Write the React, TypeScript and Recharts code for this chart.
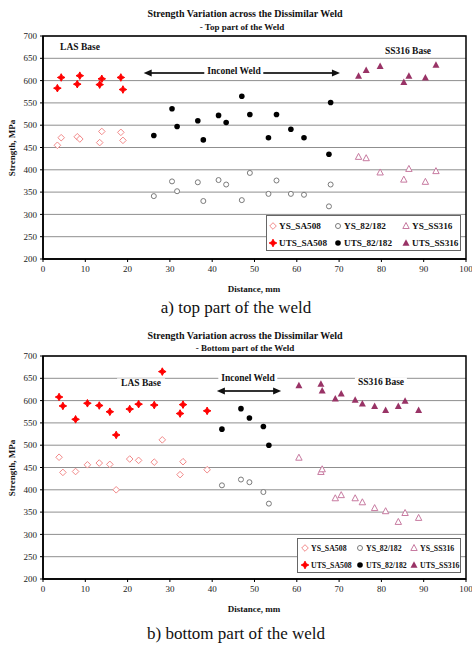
import {
  CartesianGrid,
  Legend,
  ReferenceArea,
  ReferenceLine,
  Scatter,
  ScatterChart,
  XAxis,
  YAxis,
} from "recharts";

const FONT = "'Liberation Serif', 'Times New Roman', Times, serif";

const distTicks = [0, 10, 20, 30, 40, 50, 60, 70, 80, 90, 100];
const strengthTicks = [200, 250, 300, 350, 400, 450, 500, 550, 600, 650, 700];

// top part of the weld
const topLasDist = [3.4, 4.3, 8.1, 8.7, 13.4, 13.9, 18.4, 18.9];
const topLasYS = [455, 472, 474, 469, 461, 486, 484, 466];
const topLasUTS = [583, 607, 592, 611, 591, 604, 607, 580];

const topWeldDist = [26.2, 30.5, 31.7, 36.6, 37.9, 41.5, 43.3, 47.0, 48.9, 53.3, 55.2, 58.6, 61.7, 67.6, 68.0];
const topWeldYS = [341, 374, 352, 372, 330, 377, 367, 332, 393, 346, 376, 346, 344, 318, 367];
const topWeldUTS = [477, 537, 497, 510, 467, 522, 506, 565, 524, 472, 524, 491, 472, 435, 551];

const topSsDist = [74.6, 76.4, 79.7, 85.3, 86.5, 90.4, 92.9];
const topSsYS = [429, 426, 394, 378, 402, 373, 397];
const topSsUTS = [610, 623, 632, 596, 610, 606, 635];

// bottom part of the weld
const botLasDist = [3.8, 4.7, 7.7, 10.5, 13.3, 15.8, 17.3, 20.5, 22.6, 26.3, 28.2, 32.4, 33.1, 38.8];
const botLasYS = [473, 439, 441, 456, 460, 457, 400, 469, 466, 462, 512, 434, 463, 445];
const botLasUTS = [608, 588, 558, 594, 589, 575, 523, 581, 592, 590, 665, 571, 591, 577];

const botWeldDist = [42.3, 46.8, 48.8, 52.1, 53.4];
const botWeldYS = [410, 423, 417, 395, 369];
const botWeldUTS = [536, 582, 561, 542, 500];

const botSsDist = [60.5, 65.7, 66.0, 69.1, 70.5, 73.8, 75.5, 78.4, 81.0, 84.0, 85.6, 88.8];
const botSsYS = [472, 440, 446, 381, 388, 381, 372, 359, 352, 328, 348, 337];
const botSsUTS = [634, 637, 622, 604, 615, 601, 593, 587, 578, 587, 599, 578];

const pts = (xs: number[], ys: number[]) => xs.map((x, i) => ({ x, y: ys[i] }));

const C = {
  ysSa: "#f28a8a",
  utsSa: "#ff0000",
  ysWeld: "#7a7a7a",
  utsWeld: "#000000",
  ysSs: "#c77aa0",
  utsSs: "#993366",
};

type Mk = "openDiamond" | "diamond" | "openCircle" | "circle" | "openTri" | "tri";

function marker(kind: Mk, cx: number, cy: number, color: string) {
  const s = 3.3;
  switch (kind) {
    case "openDiamond":
      return <path d={`M${cx},${cy - s}L${cx + s},${cy}L${cx},${cy + s}L${cx - s},${cy}Z`} fill="#fff" stroke={color} strokeWidth={1} />;
    case "diamond":
      return <path d={`M${cx},${cy - 3.8}L${cx + 1.3},${cy - 1.3}L${cx + 3.8},${cy}L${cx + 1.3},${cy + 1.3}L${cx},${cy + 3.8}L${cx - 1.3},${cy + 1.3}L${cx - 3.8},${cy}L${cx - 1.3},${cy - 1.3}Z`} fill={color} stroke={color} strokeWidth={1} />;
    case "openCircle":
      return <circle cx={cx} cy={cy} r={2.5} fill="#fff" stroke={color} strokeWidth={1} />;
    case "circle":
      return <circle cx={cx} cy={cy} r={2.8} fill={color} />;
    case "openTri":
      return <path d={`M${cx},${cy - 3.5}L${cx + 3.2},${cy + 2.5}L${cx - 3.2},${cy + 2.5}Z`} fill="#fff" stroke={color} strokeWidth={1} />;
    case "tri":
      return <path d={`M${cx},${cy - 3.8}L${cx + 3.5},${cy + 2.7}L${cx - 3.5},${cy + 2.7}Z`} fill={color} />;
  }
}

const shapeOf = (kind: Mk, color: string) => (props: any) => marker(kind, props.cx, props.cy, color);

const legendItems: Array<{ name: string; kind: Mk; color: string }> = [
  { name: "YS_SA508", kind: "openDiamond", color: C.ysSa },
  { name: "YS_82/182", kind: "openCircle", color: C.ysWeld },
  { name: "YS_SS316", kind: "openTri", color: C.ysSs },
  { name: "UTS_SA508", kind: "diamond", color: C.utsSa },
  { name: "UTS_82/182", kind: "circle", color: C.utsWeld },
  { name: "UTS_SS316", kind: "tri", color: C.utsSs },
];

function LegendBox({ cols, rows, w, h, fs }: { cols: number[]; rows: number[]; w: number; h: number; fs: number }) {
  return (
    <div style={{ position: "relative", width: w, height: h, border: "1px solid #666", background: "#fff", boxSizing: "border-box" }}>
      {legendItems.map((it, i) => {
        const left = cols[i % 3];
        const top = rows[Math.floor(i / 3)];
        return (
          <div key={it.name} style={{ position: "absolute", left: left - 5, top: top - 6, height: 12, display: "flex", alignItems: "center", whiteSpace: "nowrap" }}>
            <svg width={10} height={12}>{marker(it.kind, 5, 6, it.color)}</svg>
            <span style={{ fontFamily: FONT, fontWeight: "bold", fontSize: fs, color: "#111", marginLeft: 1 }}>{it.name}</span>
          </div>
        );
      })}
    </div>
  );
}

const ArrowShape = (props: any) => {
  const { x1, y1, x2, y2 } = props;
  const l = Math.min(x1, x2);
  const r = Math.max(x1, x2);
  const y = (y1 + y2) / 2;
  return (
    <g>
      <line x1={l + 6} y1={y} x2={r - 6} y2={y} stroke="#333" strokeWidth={2} />
      <path d={`M${l},${y}L${l + 8},${y - 3.5}L${l + 8},${y + 3.5}Z`} fill="#111" />
      <path d={`M${r},${y}L${r - 8},${y - 3.5}L${r - 8},${y + 3.5}Z`} fill="#111" />
    </g>
  );
};

function Note({ x, y, text, size = 9.5, bg = false, weight = "bold", padX = 3 }: { x: number; y: number; text: string; size?: number; bg?: boolean; weight?: string; padX?: number }) {
  return (
    <div
      style={{
        position: "absolute",
        left: x,
        top: y,
        transform: "translate(-50%, -50%)",
        fontFamily: FONT,
        fontWeight: weight as any,
        fontSize: size,
        lineHeight: 1.2,
        whiteSpace: "nowrap",
        color: "#111",
        background: bg ? "#fff" : "transparent",
        padding: bg ? `0 ${padX}px` : 0,
      }}
    >
      {text}
    </div>
  );
}

type Series = { name: string; data: Array<{ x: number; y: number }>; kind: Mk; color: string };

const tickStyle = { fontSize: 9, fill: "#222", fontFamily: FONT };

function WeldChart({
  series,
  arrow,
  legend,
  top,
}: {
  series: Series[];
  arrow: { x1: number; x2: number; y: number };
  legend: { left: number; top: number; w: number; h: number; cols: number[]; rows: number[]; fs: number };
  top: number;
}) {
  return (
    <div style={{ position: "absolute", left: 0, top, fontFamily: FONT }}>
      <ScatterChart width={472} height={300} margin={{ top: 36, right: 6, left: 13, bottom: 21 }} style={{ fontFamily: FONT }}>
        <CartesianGrid horizontal vertical={false} stroke="#8f8f8f" strokeWidth={1} />
        <XAxis
          type="number"
          dataKey="x"
          domain={[0, 100]}
          ticks={distTicks}
          interval={0}
          height={20}
          tickSize={3}
          tickMargin={4}
          axisLine={{ stroke: "#000", strokeWidth: 1.5 }}
          tickLine={{ stroke: "#000" }}
          tick={tickStyle}
          allowDataOverflow
        />
        <YAxis
          type="number"
          dataKey="y"
          domain={[200, 700]}
          ticks={strengthTicks}
          interval={0}
          width={30}
          tickSize={3}
          tickMargin={3}
          axisLine={{ stroke: "#000", strokeWidth: 1.5 }}
          tickLine={{ stroke: "#000" }}
          tick={tickStyle}
          allowDataOverflow
        />
        <ReferenceArea x1={0} x2={100} y1={200} y2={700} fill="none" stroke="#000" strokeWidth={1.5} />
        <ReferenceLine
          segment={[
            { x: arrow.x1, y: arrow.y },
            { x: arrow.x2, y: arrow.y },
          ]}
          shape={ArrowShape}
        />
        {series.map((s) => (
          <Scatter key={s.name} name={s.name} data={s.data} isAnimationActive={false} shape={shapeOf(s.kind, s.color)} />
        ))}
        <Legend
          layout="horizontal"
          verticalAlign="middle"
          align="center"
          wrapperStyle={{ position: "absolute", left: legend.left, top: legend.top, width: legend.w, height: legend.h }}
          content={() => <LegendBox cols={legend.cols} rows={legend.rows} w={legend.w} h={legend.h} fs={legend.fs} />}
        />
      </ScatterChart>
    </div>
  );
}

const topSeries: Series[] = [
  { name: "YS_SA508", data: pts(topLasDist, topLasYS), kind: "openDiamond", color: C.ysSa },
  { name: "YS_82/182", data: pts(topWeldDist, topWeldYS), kind: "openCircle", color: C.ysWeld },
  { name: "YS_SS316", data: pts(topSsDist, topSsYS), kind: "openTri", color: C.ysSs },
  { name: "UTS_SA508", data: pts(topLasDist, topLasUTS), kind: "diamond", color: C.utsSa },
  { name: "UTS_82/182", data: pts(topWeldDist, topWeldUTS), kind: "circle", color: C.utsWeld },
  { name: "UTS_SS316", data: pts(topSsDist, topSsUTS), kind: "tri", color: C.utsSs },
];

const botSeries: Series[] = [
  { name: "YS_SA508", data: pts(botLasDist, botLasYS), kind: "openDiamond", color: C.ysSa },
  { name: "YS_82/182", data: pts(botWeldDist, botWeldYS), kind: "openCircle", color: C.ysWeld },
  { name: "YS_SS316", data: pts(botSsDist, botSsYS), kind: "openTri", color: C.ysSs },
  { name: "UTS_SA508", data: pts(botLasDist, botLasUTS), kind: "diamond", color: C.utsSa },
  { name: "UTS_82/182", data: pts(botWeldDist, botWeldUTS), kind: "circle", color: C.utsWeld },
  { name: "UTS_SS316", data: pts(botSsDist, botSsUTS), kind: "tri", color: C.utsSs },
];

const yLabelStyle = {
  position: "absolute" as const,
  left: 12,
  transform: "translate(-50%, -50%) rotate(-90deg)",
  fontFamily: FONT,
  fontWeight: "bold" as const,
  fontSize: 9,
  whiteSpace: "nowrap" as const,
  color: "#111",
};

export default function App() {
  return (
    <div style={{ position: "absolute", left: 0, top: 0, width: 472, height: 645, background: "#fff", overflow: "hidden", fontFamily: FONT }}>
      <WeldChart
        series={topSeries}
        arrow={{ x1: 23.8, x2: 70.2, y: 617 }}
        legend={{ left: 266, top: 215, w: 195, h: 36, cols: [6, 71, 139], rows: [10, 27], fs: 9.2 }}
        top={0}
      />
      <WeldChart
        series={botSeries}
        arrow={{ x1: 41.1, x2: 56.3, y: 621.5 }}
        legend={{ left: 297, top: 218, w: 164, h: 35, cols: [7, 62, 116], rows: [9, 26], fs: 7.8 }}
        top={320}
      />

      <Note x={245} y={14} text="Strength Variation across the Dissimilar Weld" size={10} />
      <Note x={242} y={27} text="- Top part of the Weld" size={9} />
      <Note x={80} y={48} text="LAS Base" />
      <Note x={408} y={52} text="SS316 Base" />
      <Note x={234} y={72} text="Inconel Weld" bg />
      <Note x={254} y={289} text="Distance, mm" size={9} />
      <div style={{ ...yLabelStyle, top: 148 }}>Strength, MPa</div>
      <Note x={236} y={308} text="a) top part of the weld" size={17} weight="normal" />

      <Note x={245} y={336} text="Strength Variation across the Dissimilar Weld" size={10} />
      <Note x={245} y={348} text="- Bottom part of the Weld" size={9} />
      <Note x={141} y={384} text="LAS Base" bg padX={4} />
      <Note x={248} y={379} text="Inconel Weld" bg padX={3} />
      <Note x={381} y={383} text="SS316 Base" bg padX={3} />
      <Note x={254} y={609} text="Distance, mm" size={9} />
      <div style={{ ...yLabelStyle, top: 468 }}>Strength, MPa</div>
      <Note x={236} y={634} text="b) bottom part of the weld" size={17} weight="normal" />
    </div>
  );
}
